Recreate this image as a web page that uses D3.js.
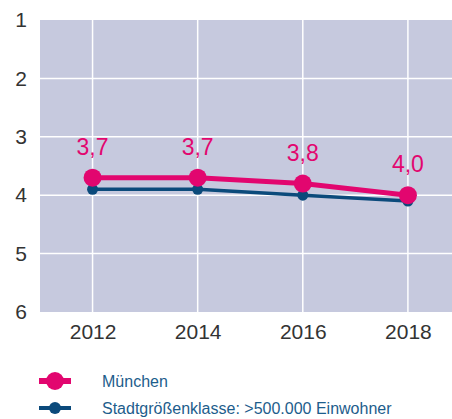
<!DOCTYPE html>
<html>
<head>
<meta charset="utf-8">
<script src="https://cdn.jsdelivr.net/npm/d3@7"></script>
<style>
  body { margin: 0; background: #fff; }
  text { font-family: "Liberation Sans", Arial, sans-serif; }
</style>
</head>
<body>
<div id="chart"></div>
<script>
const years = [2012, 2014, 2016, 2018];
const muenchen = [3.7, 3.7, 3.8, 4.0];
const stadtklasse = [3.9, 3.9, 4.0, 4.1];
const yTicks = [1, 2, 3, 4, 5, 6];
const seriesNames = ["München", "Stadtgrößenklasse: >500.000 Einwohner"];

const width = 452, height = 419;
const pink = "#e2066f", navy = "#0b4a7b";

const svg = d3.select("#chart").append("svg")
    .attr("width", width)
    .attr("height", height);

const x = d3.scaleLinear().domain([2011, 2019.6]).range([40, 492]);
const y = d3.scaleLinear().domain([1, 6]).range([20, 312]);

// plot background
svg.append("rect")
    .attr("x", x(2011)).attr("y", y(1))
    .attr("width", width - x(2011)).attr("height", y(6) - y(1))
    .attr("fill", "#c6c9de");

// grid lines
svg.append("g")
    .selectAll("line")
    .data(yTicks.slice(1, -1))
    .join("line")
    .attr("x1", x(2011)).attr("x2", width)
    .attr("y1", d => y(d)).attr("y2", d => y(d))
    .attr("stroke", "#fff").attr("stroke-width", 1.5);

svg.append("g")
    .selectAll("line")
    .data(years)
    .join("line")
    .attr("x1", d => x(d)).attr("x2", d => x(d))
    .attr("y1", y(1)).attr("y2", y(6))
    .attr("stroke", "#fff").attr("stroke-width", 1.5);

// axes
const yAxis = svg.append("g")
    .attr("transform", "translate(" + x(2011) + ",0)")
    .call(d3.axisLeft(y).tickValues(yTicks).tickSize(0).tickPadding(13).tickFormat(d3.format("d")));
yAxis.select(".domain").remove();
yAxis.selectAll("text")
    .style("font-size", "21px").attr("fill", "#333")
    .attr("font-family", "Liberation Sans, Arial, sans-serif");

const xAxis = svg.append("g")
    .attr("transform", "translate(0," + y(6) + ")")
    .call(d3.axisBottom(x).tickValues(years).tickSize(0).tickPadding(12).tickFormat(d3.format("d")));
xAxis.select(".domain").remove();
xAxis.selectAll("text")
    .style("font-size", "21px").attr("fill", "#333")
    .attr("font-family", "Liberation Sans, Arial, sans-serif");

const line = d3.line().x((d, i) => x(years[i])).y(d => y(d));

// Stadtgrößenklasse series
svg.append("path")
    .datum(stadtklasse)
    .attr("d", line)
    .attr("fill", "none")
    .attr("stroke", navy)
    .attr("stroke-width", 3.5);
svg.append("g")
    .selectAll("circle")
    .data(stadtklasse)
    .join("circle")
    .attr("cx", (d, i) => x(years[i]))
    .attr("cy", d => y(d))
    .attr("r", 5.5)
    .attr("fill", navy);

// München series
svg.append("path")
    .datum(muenchen)
    .attr("d", line)
    .attr("fill", "none")
    .attr("stroke", pink)
    .attr("stroke-width", 5);
svg.append("g")
    .selectAll("circle")
    .data(muenchen)
    .join("circle")
    .attr("cx", (d, i) => x(years[i]))
    .attr("cy", d => y(d))
    .attr("r", 9)
    .attr("fill", pink);

svg.append("g")
    .selectAll("text")
    .data(muenchen)
    .join("text")
    .attr("x", (d, i) => x(years[i]))
    .attr("y", d => y(d) - 23)
    .attr("text-anchor", "middle")
    .attr("fill", pink)
    .style("font-size", "23px")
    .text(d => d.toFixed(1).replace(".", ","));

// legend
const legend = svg.append("g");
const legendRows = [
    { name: seriesNames[0], color: pink, sw: 6, r: 9, y: 381 },
    { name: seriesNames[1], color: navy, sw: 4, r: 6, y: 408 }
];
legendRows.forEach(row => {
    legend.append("line")
        .attr("x1", 39).attr("x2", 71)
        .attr("y1", row.y).attr("y2", row.y)
        .attr("stroke", row.color).attr("stroke-width", row.sw);
    legend.append("circle")
        .attr("cx", 55).attr("cy", row.y).attr("r", row.r)
        .attr("fill", row.color);
    legend.append("text")
        .attr("x", 102).attr("y", row.y)
        .attr("dy", "0.35em")
        .attr("fill", "#1d5d8c")
        .style("font-size", "16px")
        .text(row.name);
});
</script>
</body>
</html>
